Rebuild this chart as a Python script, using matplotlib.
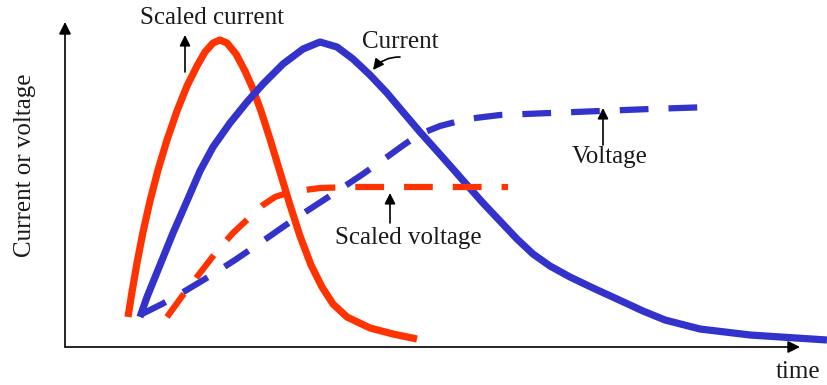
import matplotlib
matplotlib.use("Agg")
import matplotlib.pyplot as plt

# Data (time, value), origin at axis corner
scaled_current_t = [63, 67, 72, 78, 85, 93, 102, 112, 122, 132, 140, 148, 155, 162, 171, 180, 188, 196, 205, 215,
                    225, 235, 246, 257, 268, 282, 305, 328, 352]
scaled_current_v = [30, 55, 84, 115, 146, 177, 207, 236, 261, 281, 295, 304, 307, 304, 293, 276, 258, 236, 208, 175,
                    142, 111, 82, 60, 43, 30, 19, 13, 8]

current_t = [75, 82, 95, 108, 122, 135, 148, 165, 182, 198, 218, 238, 255, 272, 288, 305, 322, 338, 355, 372, 388,
             402, 418, 435, 452, 468, 485, 505, 528, 552, 578, 600, 635, 685, 762]
current_v = [30, 50, 82, 114, 146, 176, 200, 224, 245, 263, 283, 298, 305, 300, 288, 272, 254, 235, 215, 196, 178,
             162, 144, 126, 108, 93, 81, 70, 59, 48, 36, 27, 18, 12, 7]

voltage_t = [75, 97, 120, 145, 170, 195, 228, 268, 298, 322, 340, 355, 375, 402, 435, 485, 535, 585, 645]
voltage_v = [32, 43, 56, 71, 87, 104, 127, 153, 173, 190, 203, 213, 221, 228, 232, 234, 236, 238, 240]

scaled_voltage_t = [102, 118, 135, 152, 168, 185, 198, 210, 225, 255, 288, 375, 443]
scaled_voltage_v = [30, 52, 74, 96, 114, 130, 142, 150, 155, 159, 160, 160, 160]

RED = "#ff3300"
BLUE = "#3333cc"
TXT = "#1a1a1a"
FONT = "Liberation Serif"

fig = plt.figure(figsize=(8.28, 3.85), dpi=100)
ax = fig.add_axes([0, 0, 1, 1])
ax.set_xlim(-65, 763)
ax.set_ylim(-38, 347)
ax.axis("off")

ax.plot(scaled_current_t, scaled_current_v, color=RED, lw=5.2, solid_capstyle="butt", solid_joinstyle="round")
ax.plot(current_t, current_v, color=BLUE, lw=5.2, solid_capstyle="butt", solid_joinstyle="round")
ax.plot(voltage_t, voltage_v, color=BLUE, lw=4.5, dashes=(4.6, 3.2), dash_capstyle="butt")
ax.plot(scaled_voltage_t, scaled_voltage_v, color=RED, lw=4.5, dashes=(4.6, 3.2), dash_capstyle="butt")

# axes with arrows
ax.annotate("", xy=(0, 325), xytext=(0, 0),
            arrowprops=dict(arrowstyle="-|>", color="black", lw=1.2, mutation_scale=18, shrinkA=0, shrinkB=0))
ax.annotate("", xy=(735, 0), xytext=(0, 0),
            arrowprops=dict(arrowstyle="-|>", color="black", lw=1.2, mutation_scale=18, shrinkA=0, shrinkB=0))

fs = 18
ax.text(147, 329, "Scaled current", ha="center", va="center", fontsize=fs, family=FONT, color=TXT)
ax.text(335, 305, "Current", ha="center", va="center", fontsize=fs, family=FONT, color=TXT)
ax.text(545, 190, "Voltage", ha="center", va="center", fontsize=fs, family=FONT, color=TXT)
ax.text(343, 109, "Scaled voltage", ha="center", va="center", fontsize=fs, family=FONT, color=TXT)
ax.text(-40, 182, "Current or voltage", ha="center", va="center", rotation=90, fontsize=fs, family=FONT, color=TXT)
ax.text(733, -25, "time", ha="center", va="center", fontsize=fs, family=FONT, color=TXT)

ap = dict(arrowstyle="-|>", color="black", lw=1.2, mutation_scale=16, shrinkA=0, shrinkB=0)
ax.annotate("", xy=(120, 312), xytext=(120, 275), arrowprops=ap)
ax.annotate("", xy=(538, 239), xytext=(538, 202), arrowprops=ap)
ax.annotate("", xy=(325, 154), xytext=(325, 124), arrowprops=ap)
ax.annotate("", xy=(308, 277), xytext=(335, 290),
            arrowprops=dict(ap, connectionstyle="arc3,rad=0.25"))

fig.savefig("out.png", dpi=100)
